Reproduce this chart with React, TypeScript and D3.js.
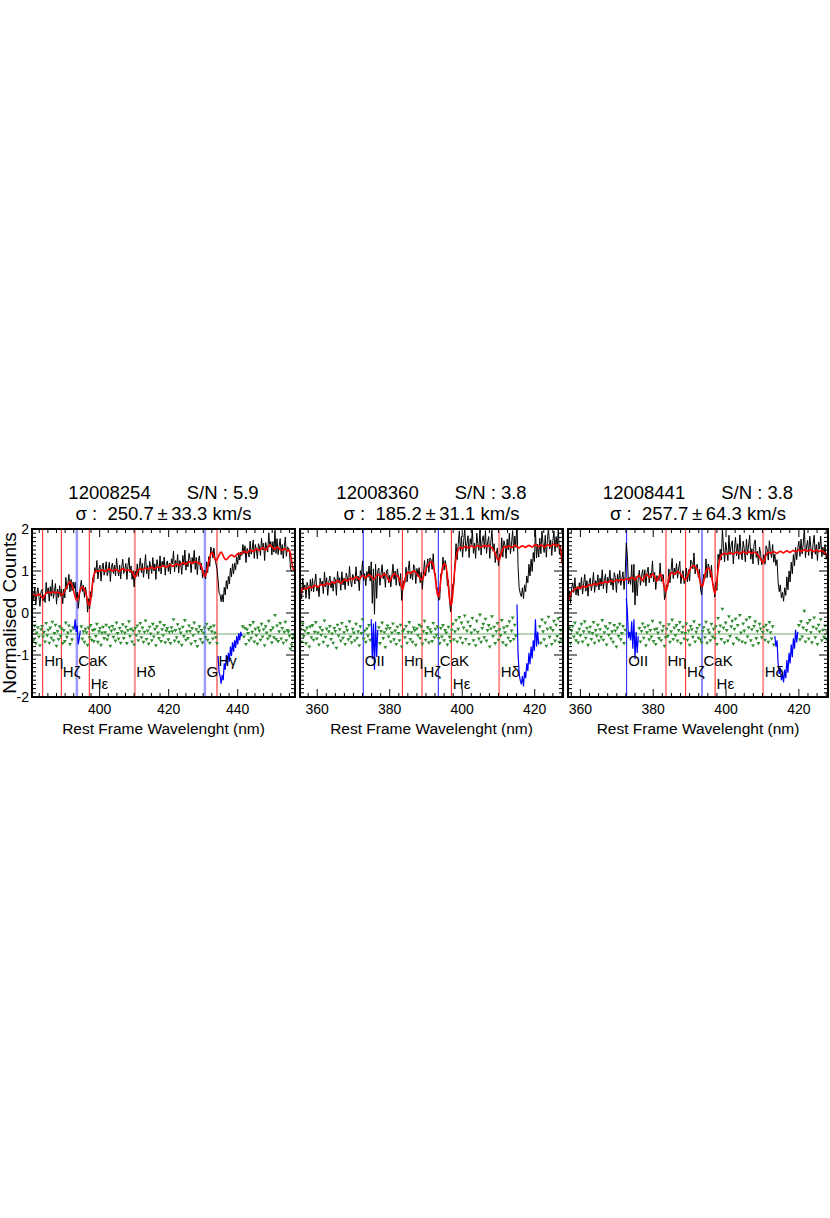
import React, { useEffect, useRef } from 'react';
import * as d3 from 'd3';

// --- spectra: rest frame wavelength grid (nm) ---
const gridStart = [380.6, 355.4, 356.7];
const gridStep = 0.3;
const residOffset = -0.5;

const objectIds = ['12008254', '12008360', '12008441'];
const snr = ['5.9', '3.8', '3.8'];
const sigma = ['250.7', '185.2', '257.7'];
const sigmaErr = ['33.3', '31.1', '64.3'];

const xDomains = [[380.4, 456.6], [355.25, 427.8], [356.6, 428.0]];
const xTicks = [[400, 420, 440], [360, 380, 400, 420], [360, 380, 400, 420]];
const yTicks = [-2, -1, 0, 1, 2];

// best fit model (red)
const model1 = [
  0.46, 0.44, 0.42, 0.41, 0.42, 0.44, 0.45, 0.43, 0.40, 0.37,
  0.35, 0.38, 0.43, 0.47, 0.49, 0.50, 0.49, 0.48, 0.49, 0.50,
  0.50, 0.49, 0.48, 0.49, 0.50, 0.49, 0.47, 0.45, 0.43, 0.44,
  0.48, 0.53, 0.58, 0.63, 0.68, 0.72, 0.74, 0.72, 0.66, 0.58,
  0.48, 0.38, 0.31, 0.30, 0.36, 0.46, 0.55, 0.60, 0.62, 0.60,
  0.56, 0.50, 0.40, 0.28, 0.19, 0.18, 0.30, 0.52, 0.75, 0.90,
  0.97, 1.00, 1.01, 1.00, 0.99, 1.00, 1.02, 1.03, 1.02, 1.00,
  0.99, 1.00, 1.02, 1.04, 1.05, 1.03, 1.01, 1.00, 1.01, 1.03,
  1.04, 1.03, 1.01, 0.99, 1.00, 1.02, 1.04, 1.05, 1.04, 1.02,
  1.01, 1.02, 1.03, 1.02, 1.01, 1.00, 0.98, 0.93, 0.87, 0.85,
  0.90, 0.97, 1.02, 1.04, 1.05, 1.04, 1.03, 1.04, 1.06, 1.07,
  1.06, 1.05, 1.04, 1.06, 1.08, 1.09, 1.08, 1.06, 1.05, 1.07,
  1.09, 1.10, 1.09, 1.08, 1.10, 1.12, 1.13, 1.12, 1.10, 1.09,
  1.10, 1.12, 1.14, 1.15, 1.13, 1.11, 1.12, 1.14, 1.16, 1.17,
  1.16, 1.14, 1.13, 1.15, 1.18, 1.20, 1.19, 1.17, 1.16, 1.18,
  1.20, 1.22, 1.21, 1.19, 1.18, 1.20, 1.22, 1.21, 1.21, 1.20,
  1.20, 1.18, 1.15, 1.10, 1.03, 0.94, 0.87, 0.89, 0.98, 1.10,
  1.22, 1.32, 1.40, 1.44, 1.42, 1.35, 1.28, 1.25, 1.27, 1.32,
  1.38, 1.43, 1.45, 1.42, 1.36, 1.31, 1.28, 1.27, 1.29, 1.32,
  1.35, 1.37, 1.38, 1.37, 1.35, 1.34, 1.36, 1.39, 1.41, 1.42,
  1.41, 1.40, 1.42, 1.45, 1.47, 1.46, 1.44, 1.43, 1.45, 1.48,
  1.50, 1.49, 1.47, 1.46, 1.48, 1.51, 1.53, 1.52, 1.50, 1.49,
  1.51, 1.54, 1.56, 1.55, 1.52, 1.50, 1.52, 1.56, 1.60, 1.62,
  1.61, 1.58, 1.55, 1.53, 1.52, 1.54, 1.57, 1.56, 1.53, 1.51,
  1.50, 1.49, 1.51, 1.53, 1.52, 1.50, 1.48, 1.49, 1.49, 1.40,
  1.25, 1.10, 1.02,
];
// observed - model (green / blue where masked)
const resid1 = [
  0.08, -0.14, 0.20, -0.22, 0.03, 0.16, -0.06, -0.27, 0.11, 0.19,
  -0.06, 0.05, -0.18, 0.26, -0.03, 0.10, -0.21, 0.15, -0.09, 0.29,
  -0.15, 0.02, 0.22, -0.28, 0.07, -0.12, 0.18, -0.05, 0.13, -0.22,
  0.09, -0.17, 0.27, -0.07, 0.03, 0.20, -0.24, 0.08, -0.13, 0.16,
  0.10, 0.35, 0.05, 0.20, -0.25, -0.10, 0.08,
  0.18, -0.11, 0.06,
  -0.19, 0.12, 0.04, -0.26, 0.15, -0.08, 0.21, -0.14, 0.09, -0.17,
  0.11, -0.05, 0.24, -0.19, 0.06, 0.14, -0.26, 0.03, 0.17, -0.10,
  0.04, 0.22, -0.13, -0.03, 0.16, -0.28, 0.08, 0.19, -0.07, 0.11,
  -0.16, 0.27, 0.02, -0.11, 0.14, -0.21, 0.06, 0.23, -0.10, 0.03,
  0.17, -0.22, 0.09, 0.30, -0.05, 0.12, -0.18, 0.08, -0.25, 0.14,
  -0.03, 0.20, -0.15, 0.06, 0.26, -0.08, 0.15, -0.19, 0.05, 0.32,
  -0.12, 0.08, -0.23, 0.17, 0.01, -0.15, 0.24, -0.06, 0.12, -0.27,
  0.18, 0.03, -0.10, 0.28, -0.17, 0.11, -0.03, 0.21, -0.20, 0.08,
  0.14, -0.13, 0.05, -0.22, 0.16, 0.06, 0.35, -0.16, 0.09, -0.08,
  0.23, -0.19, 0.12, 0.03, -0.26, 0.17, -0.05, 0.33, -0.14, 0.06,
  -0.10, 0.20, 0.07, -0.23, 0.14, -0.03, 0.27, -0.17, 0.11, -0.29,
  0.05, 0.18, -0.12, 0.09, -0.20, 0.03, 0.15, -0.08, 0.24, -0.14,
  0.12, -0.21, 0.17, 0.06, -0.11, 0.20, 0.03, -0.08, -0.22,
  -0.52, -0.90, -1.00, -1.18, -0.98, -1.10, -0.70, -0.85, -0.50, -0.72, -0.45, -0.66,
  -0.30, -0.52, -0.20, -0.42, -0.15, -0.33, -0.05, -0.25, 0.02, -0.15, 0.05, -0.05,
  0.18, -0.06, 0.14, -0.24, 0.11, 0.02, -0.15,
  0.21, -0.09, 0.05, 0.28, -0.18, 0.12, -0.03, -0.23, 0.15, 0.08,
  -0.14, 0.24, -0.06, 0.11, -0.27, 0.18, 0.03, -0.11, 0.31, -0.05,
  0.09, -0.20, 0.15, -0.08, 0.45, -0.12, 0.20, -0.17, 0.06, 0.26,
  -0.11, 0.14, -0.21, 0.05, 0.29, -0.15, 0.09, 0.06, -0.04, -0.35,
  -0.25, -0.10, -0.02,
];
const masks1 = [[392.6, 394.4], [434.3, 441.2]];

const model2 = [
  0.45, 0.52, 0.58, 0.60, 0.59, 0.57, 0.58, 0.61, 0.63, 0.62,
  0.60, 0.61, 0.64, 0.66, 0.65, 0.63, 0.62, 0.64, 0.67, 0.68,
  0.67, 0.65, 0.66, 0.69, 0.71, 0.70, 0.68, 0.69, 0.72, 0.74,
  0.73, 0.71, 0.72, 0.75, 0.77, 0.76, 0.73, 0.70, 0.72, 0.76,
  0.79, 0.80, 0.78, 0.76, 0.78, 0.81, 0.83, 0.82, 0.80, 0.81,
  0.84, 0.86, 0.85, 0.82, 0.80, 0.83, 0.87, 0.89, 0.88, 0.86,
  0.84, 0.86, 0.89, 0.91, 0.90, 0.87, 0.83, 0.80, 0.82, 0.86,
  0.90, 0.92, 0.91, 0.88, 0.86, 0.88, 0.91, 0.93, 0.92, 0.89,
  0.84, 0.78, 0.76, 0.80, 0.86, 0.91, 0.93, 0.92, 0.90, 0.88,
  0.86, 0.80, 0.72, 0.60, 0.56, 0.66, 0.80, 0.90, 0.95, 0.97,
  0.96, 0.94, 0.95, 0.98, 1.00, 0.99, 0.96, 0.93, 0.90, 0.86,
  0.82, 0.79, 0.80, 0.86, 0.94, 1.02, 1.08, 1.13, 1.17, 1.20,
  1.22, 1.21, 1.15, 1.02, 0.82, 0.58, 0.42, 0.40, 0.55, 0.80,
  1.00, 1.12, 1.17, 1.16, 1.08, 0.90, 0.62, 0.35, 0.20, 0.22,
  0.45, 0.80, 1.10, 1.32, 1.45, 1.52, 1.55, 1.56, 1.55, 1.54,
  1.56, 1.58, 1.59, 1.57, 1.55, 1.56, 1.58, 1.60, 1.59, 1.57,
  1.56, 1.57, 1.59, 1.61, 1.60, 1.58, 1.57, 1.58, 1.60, 1.61,
  1.60, 1.58, 1.59, 1.61, 1.60, 1.57, 1.55, 1.52, 1.48, 1.42,
  1.35, 1.29, 1.26, 1.28, 1.36, 1.46, 1.53, 1.57, 1.58, 1.56,
  1.57, 1.59, 1.60, 1.58, 1.56, 1.57, 1.59, 1.61, 1.60, 1.58,
  1.56, 1.55, 1.57, 1.59, 1.60, 1.59, 1.57, 1.56, 1.58, 1.60,
  1.61, 1.60, 1.58, 1.57, 1.59, 1.62, 1.63, 1.61, 1.59, 1.58,
  1.60, 1.62, 1.61, 1.59, 1.57, 1.58, 1.61, 1.63, 1.62, 1.60,
  1.59, 1.61, 1.63, 1.64, 1.62, 1.60, 1.61, 1.63, 1.60, 1.52,
  1.35, 1.15,
];
const resid2 = [
  0.12, -0.18, 0.25, -0.05, 0.08, -0.22, 0.15, 0.02, -0.30, 0.18,
  -0.08, 0.21, -0.14, 0.05, 0.28, -0.11, 0.03, -0.25, 0.16, -0.02,
  0.09, -0.19, 0.32, -0.07, 0.13, -0.28, 0.06, 0.19, -0.12, 0.01,
  -0.21, 0.14, 0.07, -0.33, 0.22, -0.04, 0.11, -0.16, 0.26, -0.09,
  0.04, -0.24, 0.17, 0.09, -0.13, 0.30, -0.06, -0.20, 0.12, 0.03,
  -0.15, 0.24, -0.09, 0.06, -0.27, 0.18, 0.02, 0.35, -0.11, 0.08,
  -0.19, 0.13, -0.04, 0.21, -0.14,
  0.35, -0.60, 0.25, -0.85, 0.30, -0.55, 0.10,
  0.16, -0.22, 0.07, 0.27, -0.10, 0.04, -0.31, 0.12,
  0.20, -0.06, 0.14, -0.18, 0.03, 0.25, -0.13, 0.08, -0.24, 0.17,
  0.02, -0.15, 0.22, -0.30, 0.06, 0.11, -0.08, 0.19, -0.21, 0.05,
  0.28, -0.12, 0.04, -0.19, 0.15, 0.09, -0.26, 0.13, -0.03, 0.22,
  -0.10, 0.18, -0.23, 0.07, 0.31, -0.14, 0.02, 0.16, -0.20, 0.11,
  0.05, -0.17, 0.26, -0.08, 0.12, -0.02, 0.18, -0.10, -0.22, 0.14,
  -0.06, 0.21, -0.15, 0.09, 0.03, -0.25, 0.17, -0.07, -0.17, 0.10,
  0.24, -0.13, 0.06, 0.33, -0.18, 0.12, 0.40, -0.09, 0.27, -0.21,
  0.15, 0.44, -0.12, 0.08, 0.29, -0.24, 0.19, 0.03, 0.38, -0.15,
  0.10, -0.27, 0.31, 0.05, -0.11, 0.46, -0.19, 0.14, 0.24, -0.08,
  0.36, -0.16, 0.09, 0.21, -0.30, 0.13, 0.42, -0.05, 0.17, -0.22,
  0.07, 0.26, -0.14, 0.11, -0.03, 0.33, -0.20, 0.15, 0.04, -0.26,
  0.19, -0.09, 0.30, -0.17, 0.08, 0.39, -0.12, 0.22, -0.04,
  0.70, -0.45, -0.95, -1.10, -1.20, -1.00, -1.25, -0.90, -1.05, -0.70, -0.88,
  -0.45, -0.72, -0.30, -0.58, -0.15, -0.40, 0.35, -0.30, 0.05, -0.25,
  0.18, -0.21, 0.34, 0.06, -0.13, 0.27, -0.28, 0.12, 0.41, -0.07,
  0.15, -0.24, 0.09, 0.31, -0.16, 0.22, -0.05, 0.37, -0.19, 0.10,
  -0.12, 0.08,
];
const masks2 = [[374.9, 376.7], [415.1, 421.1]];

const model3 = [
  0.30, 0.38, 0.45, 0.50, 0.53, 0.55, 0.57, 0.58, 0.60, 0.61,
  0.60, 0.59, 0.61, 0.63, 0.64, 0.62, 0.61, 0.63, 0.66, 0.67,
  0.66, 0.65, 0.67, 0.69, 0.70, 0.68, 0.67, 0.69, 0.71, 0.72,
  0.71, 0.70, 0.72, 0.74, 0.75, 0.73, 0.72, 0.74, 0.76, 0.77,
  0.76, 0.74, 0.75, 0.77, 0.79, 0.78, 0.76, 0.77, 0.79, 0.80,
  0.79, 0.78, 0.80, 0.82, 0.81, 0.79, 0.80, 0.83, 0.85, 0.84,
  0.81, 0.79, 0.82, 0.86, 0.89, 0.88, 0.84, 0.80, 0.78, 0.82,
  0.87, 0.91, 0.92, 0.89, 0.85, 0.86, 0.90, 0.93, 0.91, 0.86,
  0.80, 0.76, 0.80, 0.87, 0.92, 0.90, 0.83, 0.72, 0.60, 0.52,
  0.55, 0.68, 0.82, 0.91, 0.95, 0.96, 0.94, 0.92, 0.94, 0.97,
  0.99, 0.98, 0.95, 0.92, 0.88, 0.84, 0.81, 0.79, 0.82, 0.88,
  0.95, 1.02, 1.07, 1.10, 1.12, 1.13, 1.11, 1.07, 1.02, 0.94,
  0.82, 0.70, 0.63, 0.65, 0.76, 0.90, 1.00, 1.05, 1.07, 1.05,
  1.00, 0.90, 0.74, 0.56, 0.48, 0.55, 0.78, 1.02, 1.20, 1.32,
  1.38, 1.40, 1.41, 1.42, 1.41, 1.40, 1.41, 1.43, 1.44, 1.43,
  1.41, 1.40, 1.42, 1.44, 1.45, 1.44, 1.42, 1.41, 1.43, 1.45,
  1.46, 1.45, 1.43, 1.42, 1.44, 1.46, 1.45, 1.43, 1.42, 1.44,
  1.45, 1.44, 1.42, 1.40, 1.37, 1.33, 1.28, 1.23, 1.20, 1.22,
  1.30, 1.38, 1.43, 1.45, 1.44, 1.42, 1.43, 1.45, 1.46, 1.45,
  1.43, 1.42, 1.44, 1.46, 1.47, 1.46, 1.44, 1.43, 1.45, 1.47,
  1.48, 1.47, 1.45, 1.44, 1.46, 1.48, 1.49, 1.47, 1.46, 1.47,
  1.49, 1.50, 1.48, 1.46, 1.47, 1.49, 1.51, 1.50, 1.48, 1.47,
  1.48, 1.50, 1.51, 1.49, 1.47, 1.46, 1.48, 1.50, 1.49, 1.47,
  1.46, 1.48, 1.49, 1.47, 1.45, 1.43, 1.40, 1.36,
];
const resid3 = [
  -0.10, 0.15, -0.22, 0.08, 0.19, -0.06, 0.27, -0.15, 0.03, -0.20,
  0.12, -0.03, 0.24, -0.18, 0.06, 0.30, -0.09, 0.14, -0.26, 0.05,
  0.17, -0.12, 0.02, 0.28, -0.21, 0.09, -0.04, 0.22, -0.16, 0.11,
  -0.07, 0.33, -0.14, 0.04, 0.18, -0.25, 0.13, -0.02, 0.26, -0.11,
  0.06, -0.19, 0.21, 0.08, -0.30, 0.15, -0.05, 0.24, -0.13, 0.02,
  0.19, -0.22, 0.10,
  0.85, 0.55, -0.10, 0.05, -0.15, 0.30, -0.35, 0.35, -0.60, 0.05, -0.45, -0.05,
  0.14, -0.18, 0.07, 0.25, -0.09,
  0.16, -0.27, 0.04, 0.20, -0.13, 0.09, -0.06, 0.31, -0.17, 0.11,
  -0.24, 0.13, 0.03, -0.10, 0.27, -0.15, 0.08, 0.19, -0.28, -0.08,
  0.12, -0.05, 0.23, -0.19, 0.06, 0.34, -0.12, 0.15, -0.03, 0.21,
  -0.16, 0.09, 0.28, -0.22, 0.04, 0.17, -0.11, 0.02, 0.25, -0.14,
  0.08, -0.26, 0.19, 0.11, -0.07, 0.30, -0.18, 0.05, 0.14, -0.09,
  0.22, -0.13, -0.20, 0.07, 0.16, -0.08, 0.29, -0.21, 0.10, 0.03,
  -0.15, 0.24, -0.06, 0.12, -0.10, 0.18, -0.24, 0.38, 0.05, 0.20,
  -0.12, 0.60, 0.15, -0.20, 0.27, 0.09, -0.16, 0.42, -0.05, 0.18,
  0.31, -0.23, 0.12, 0.36, -0.09, 0.21, -0.14, 0.45, 0.03, -0.18,
  0.25, 0.08, -0.21, 0.34, -0.06, 0.16, 0.40, -0.15, 0.11, -0.27,
  0.19, 0.30, -0.10, 0.07, -0.22, 0.24, 0.13, -0.08, 0.05, 0.17,
  -0.14, 0.22, 0.09, -0.19, 0.28, 0.04, -0.11, 0.18, -0.25,
  -0.05, -0.30, -0.15, -0.70, -0.95, -0.80, -1.10, -0.95, -1.15, -0.85, -1.05,
  -0.62, -0.92, -0.45, -0.70, -0.25, -0.55, -0.10, -0.35, 0.10, -0.20, 0.05,
  0.21, -0.13, 0.30, -0.06, 0.15, 0.55, -0.18, 0.09, 0.26,
  -0.11, 0.33, 0.04, -0.20, 0.17, 0.39, -0.08, 0.13, -0.24, 0.22,
  0.06, 0.35, -0.15, 0.10, -0.07, 0.20, -0.12, 0.04,
];
const masks3 = [[372.6, 375.9], [413.4, 419.7]];

// spectral line markers
const lineNames1 = ['Hη', 'Hζ', 'CaK', 'Hε', 'Hδ', 'G', 'Hγ'];
const lineWaves1 = [383.5, 388.9, 393.4, 397.0, 410.2, 430.5, 434.0];
const lineKinds1 = ['r', 'r', 'lb', 'r', 'p', 'lb', 'r'];
const labelRows1 = [0, 1, 0, 2, 1, 1, 0];

const lineNames2 = ['OII', 'Hη', 'Hζ', 'CaK', 'Hε', 'Hδ'];
const lineWaves2 = [372.7, 383.5, 388.9, 393.4, 397.0, 410.2];
const lineKinds2 = ['b', 'r', 'p', 'b', 'r', 'p'];
const labelRows2 = [0, 0, 1, 0, 2, 1];

const lineKinds3 = ['b', 'p', 'r', 'b', 'r', 'p'];

const FONT = '"Liberation Sans", Arial, Helvetica, sans-serif';
const GREEN = '#2e8b2e';
const lineStyle: Record<string, { stroke: string; width: number }> = {
  r: { stroke: '#ff1a1a', width: 1 },
  p: { stroke: '#ff9090', width: 2 },
  b: { stroke: '#1a1aff', width: 1 },
  lb: { stroke: '#9a9aff', width: 2.5 },
};
const labelLevels = [-1.25, -1.53, -1.8];

const frames = [
  { left: 32, right: 295 },
  { left: 300, right: 563 },
  { left: 568, right: 828 },
];
const plotTop = 529;
const plotBottom = 697;

const panels = [
  { model: model1, resid: resid1, masks: masks1, names: lineNames1, waves: lineWaves1, kinds: lineKinds1, rows: labelRows1 },
  { model: model2, resid: resid2, masks: masks2, names: lineNames2, waves: lineWaves2, kinds: lineKinds2, rows: labelRows2 },
  { model: model3, resid: resid3, masks: masks3, names: lineNames2, waves: lineWaves2, kinds: lineKinds3, rows: labelRows2 },
];

const App = () => {
  const svgRef = useRef<SVGSVGElement>(null);

  useEffect(() => {
    const svg = d3.select(svgRef.current);
    svg.selectAll('*').remove();
    const defs = svg.append('defs');

    const y = d3.scaleLinear().domain([-2, 2]).range([plotBottom, plotTop]);

    panels.forEach((p, k) => {
      const fr = frames[k];
      const x = d3.scaleLinear().domain(xDomains[k]).range([fr.left, fr.right]);
      const n = Math.min(p.model.length, p.resid.length);
      const inMask = (wl: number) => p.masks.some(([a, b]) => wl >= a - 0.01 && wl <= b + 0.01);
      const pts = d3.range(n).map(i => {
        const wl = gridStart[k] + i * gridStep;
        return { wl, model: p.model[i], flux: p.model[i] + p.resid[i], res: p.resid[i] + residOffset, masked: inMask(wl) };
      });

      defs.append('clipPath').attr('id', `clip-${k}`)
        .append('rect')
        .attr('x', fr.left).attr('y', plotTop)
        .attr('width', fr.right - fr.left).attr('height', plotBottom - plotTop);

      const g = svg.append('g');
      const inner = g.append('g').attr('clip-path', `url(#clip-${k})`);

      // line markers
      p.waves.forEach((w, j) => {
        const st = lineStyle[p.kinds[j]];
        inner.append('line')
          .attr('x1', x(w)).attr('x2', x(w))
          .attr('y1', plotTop).attr('y2', plotBottom)
          .attr('stroke', st.stroke).attr('stroke-width', st.width);
      });

      // zero level of residuals
      inner.append('line')
        .attr('x1', fr.left).attr('x2', fr.right)
        .attr('y1', y(residOffset)).attr('y2', y(residOffset))
        .attr('stroke', GREEN).attr('stroke-width', 0.7);

      // residuals
      inner.selectAll('.res')
        .data(pts.filter(d => !d.masked))
        .enter().append('path')
        .attr('class', 'res')
        .attr('d', d3.symbol().type(d3.symbolTriangle).size(6.5)())
        .attr('transform', d => `translate(${x(d.wl)},${y(d.res)}) rotate(180)`)
        .attr('fill', GREEN);

      const resLine = d3.line<any>().x(d => x(d.wl)).y(d => y(d.res));
      p.masks.forEach(([a, b]) => {
        inner.append('path')
          .datum(pts.filter(d => d.wl >= a - 0.01 && d.wl <= b + 0.01))
          .attr('d', resLine)
          .attr('fill', 'none')
          .attr('stroke', '#0000ff')
          .attr('stroke-width', 1.2);
      });

      // observed spectrum
      inner.append('path')
        .datum(pts)
        .attr('d', d3.line<any>().x(d => x(d.wl)).y(d => y(d.flux)))
        .attr('fill', 'none')
        .attr('stroke', '#000')
        .attr('stroke-width', 1);

      // model
      inner.append('path')
        .datum(pts)
        .attr('d', d3.line<any>().x(d => x(d.wl)).y(d => y(d.model)))
        .attr('fill', 'none')
        .attr('stroke', '#ff0000')
        .attr('stroke-width', 1.6);

      // frame
      g.append('rect')
        .attr('x', fr.left).attr('y', plotTop)
        .attr('width', fr.right - fr.left).attr('height', plotBottom - plotTop)
        .attr('fill', 'none').attr('stroke', '#000').attr('stroke-width', 2);

      // ticks, pointing inwards on all four sides
      const [d0, d1] = xDomains[k];
      d3.range(Math.ceil(d0 / 2.5) * 2.5, d1, 2.5).forEach(t => {
        const len = t % 20 === 0 ? 8 : 4;
        g.append('line').attr('x1', x(t)).attr('x2', x(t))
          .attr('y1', plotBottom).attr('y2', plotBottom - len)
          .attr('stroke', '#000').attr('stroke-width', 1);
        g.append('line').attr('x1', x(t)).attr('x2', x(t))
          .attr('y1', plotTop).attr('y2', plotTop + len)
          .attr('stroke', '#000').attr('stroke-width', 1);
      });
      d3.range(-20, 21).forEach(i => {
        const v = i / 10;
        const len = i % 10 === 0 ? 9 : 4;
        g.append('line').attr('x1', fr.left).attr('x2', fr.left + len)
          .attr('y1', y(v)).attr('y2', y(v))
          .attr('stroke', '#000').attr('stroke-width', 1);
        g.append('line').attr('x1', fr.right).attr('x2', fr.right - len)
          .attr('y1', y(v)).attr('y2', y(v))
          .attr('stroke', '#000').attr('stroke-width', 1);
      });

      // x tick labels
      g.selectAll('.xt')
        .data(xTicks[k])
        .enter().append('text')
        .attr('x', d => x(d)).attr('y', plotBottom + 17)
        .attr('text-anchor', 'middle')
        .style('font-family', FONT).style('font-size', '14px')
        .text(d => d);

      g.append('text')
        .attr('x', (fr.left + fr.right) / 2).attr('y', plotBottom + 37)
        .attr('text-anchor', 'middle')
        .style('font-family', FONT).style('font-size', '15.5px')
        .text('Rest Frame Wavelenght (nm)');

      if (k === 0) {
        g.selectAll('.yt')
          .data(yTicks)
          .enter().append('text')
          .attr('x', fr.left - 3).attr('y', d => y(d) + 5)
          .attr('text-anchor', 'end')
          .style('font-family', FONT).style('font-size', '14px')
          .text(d => d);
      }

      // titles
      const cx = (fr.left + fr.right) / 2;
      g.append('text')
        .attr('x', cx).attr('y', 499)
        .attr('text-anchor', 'middle')
        .style('white-space', 'pre')
        .style('font-family', FONT).style('font-size', '18.5px')
        .text(`${objectIds[k]}       S/N : ${snr[k]}`);
      g.append('text')
        .attr('x', cx).attr('y', 520)
        .attr('text-anchor', 'middle')
        .style('white-space', 'pre')
        .style('font-family', FONT).style('font-size', '18.5px')
        .text(`σ :  ${sigma[k]}\u2009±\u2009${sigmaErr[k]} km/s`);

      // line labels
      p.waves.forEach((w, j) => {
        g.append('text')
          .attr('x', x(w) + 1.5)
          .attr('y', y(labelLevels[p.rows[j]]))
          .style('font-family', FONT).style('font-size', '15px')
          .text(p.names[j]);
      });
    });

    svg.append('text')
      .attr('transform', `translate(15.5, ${(plotTop + plotBottom) / 2}) rotate(-90)`)
      .attr('text-anchor', 'middle')
      .style('font-family', FONT).style('font-size', '19px')
      .text('Normalised Counts');
  }, []);

  return (
    <div style={{ position: 'absolute', left: 0, top: 0 }}>
      <svg ref={svgRef} width={830} height={1218} />
    </div>
  );
};

export default App;
